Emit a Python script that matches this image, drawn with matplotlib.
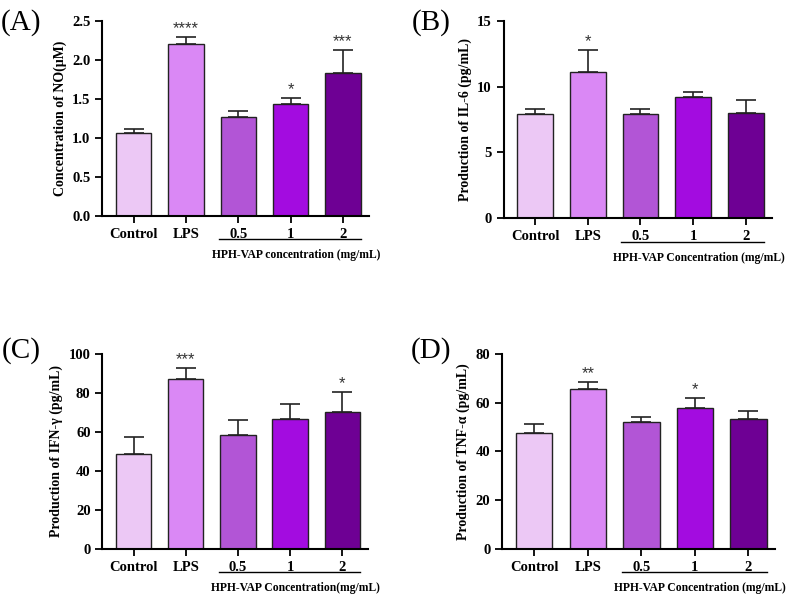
import numpy as np
import matplotlib.pyplot as plt
from matplotlib import transforms

plt.rcParams['font.family'] = ['Liberation Serif', 'DejaVu Serif']
plt.rcParams['font.weight'] = 'bold'

# Data
groups = ['Control', 'LPS', '0.5', '1', '2']
colors = ['#ecc8f5', '#da88f5', '#b255d6', '#a30ce0', '#6e0094']

no_mean = [1.06, 2.21, 1.27, 1.44, 1.83]
no_err = [0.06, 0.08, 0.07, 0.07, 0.30]
no_sig = ['', '****', '', '*', '***']

il6_mean = [7.95, 11.13, 7.90, 9.23, 8.02]
il6_err = [0.32, 1.65, 0.40, 0.40, 1.00]
il6_sig = ['', '*', '', '', '']

ifn_mean = [48.7, 87.0, 58.6, 66.6, 70.1]
ifn_err = [8.6, 5.7, 7.3, 7.8, 10.4]
ifn_sig = ['', '***', '', '', '*']

tnf_mean = [47.5, 65.7, 52.1, 57.9, 53.2]
tnf_err = [3.8, 2.7, 2.0, 3.9, 3.3]
tnf_sig = ['', '**', '', '*', '']

fig = plt.figure(figsize=(7.87, 5.98), dpi=100)


def panel(rect, mean, err, sig, ymax, step, ylabel, xlabel, fmt):
    ax = fig.add_axes(rect)
    x = np.arange(len(groups))
    ax.bar(x, mean, width=0.68, color=colors, edgecolor='#222222', linewidth=1.0,
           yerr=[np.zeros(len(err)), err], capsize=7,
           error_kw=dict(elinewidth=1.2, capthick=1.2, ecolor='#222222'))
    for xi, m, e, s in zip(x, mean, err, sig):
        if s:
            ax.text(xi, m + e + ymax * 0.005, s, ha='center', va='bottom',
                    fontsize=12, fontweight='normal', color='#333333',
                    family='Liberation Sans')
    ax.set_xlim(-0.6, 4.5)
    ax.set_ylim(0, ymax)
    ax.set_yticks(np.arange(0, ymax + step / 2, step))
    ax.yaxis.set_major_formatter(fmt)
    ax.set_xticks(x)
    ax.set_xticklabels(groups)
    ax.tick_params(labelsize=10.5, width=1.3, length=5)
    for s in ['top', 'right']:
        ax.spines[s].set_visible(False)
    for s in ['left', 'bottom']:
        ax.spines[s].set_linewidth(1.5)
    ax.set_ylabel(ylabel, fontsize=10, fontweight='bold')
    trans = transforms.blended_transform_factory(ax.transData, ax.transAxes)
    ax.plot([1.63, 4.35], [-0.118, -0.118], color='black', lw=1.0,
            transform=trans, clip_on=False)
    ax.text(3.1, -0.17, xlabel, transform=trans, ha='center', va='top',
            fontsize=8.4, fontweight='bold')
    return ax


panel([0.13, 0.639, 0.339, 0.326], no_mean, no_err, no_sig, 2.5, 0.5,
      'Concentration of NO(\u03bcM)', 'HPH-VAP concentration (mg/mL)',
      plt.FormatStrFormatter('%.1f'))
panel([0.640, 0.635, 0.341, 0.330], il6_mean, il6_err, il6_sig, 15, 5,
      'Production of IL-6 (pg/mL)', 'HPH-VAP Concentration (mg/mL)',
      plt.FormatStrFormatter('%d'))
panel([0.13, 0.082, 0.338, 0.326], ifn_mean, ifn_err, ifn_sig, 100, 20,
      'Production of IFN-\u03b3 (pg/mL)', 'HPH-VAP Concentration(mg/mL)',
      plt.FormatStrFormatter('%d'))
panel([0.638, 0.082, 0.347, 0.326], tnf_mean, tnf_err, tnf_sig, 80, 20,
      'Production of TNF-\u03b1 (pg/mL)', 'HPH-VAP Concentration (mg/mL)',
      plt.FormatStrFormatter('%d'))

# panel letters
for lx, ly, letter in [(0.027, 0.962, '(A)'), (0.548, 0.962, '(B)'),
                       (0.027, 0.413, '(C)'), (0.548, 0.413, '(D)')]:
    fig.text(lx, ly, letter, fontsize=21, fontweight='normal',
             ha='center', va='center')

fig.savefig('out.png', dpi=100)
